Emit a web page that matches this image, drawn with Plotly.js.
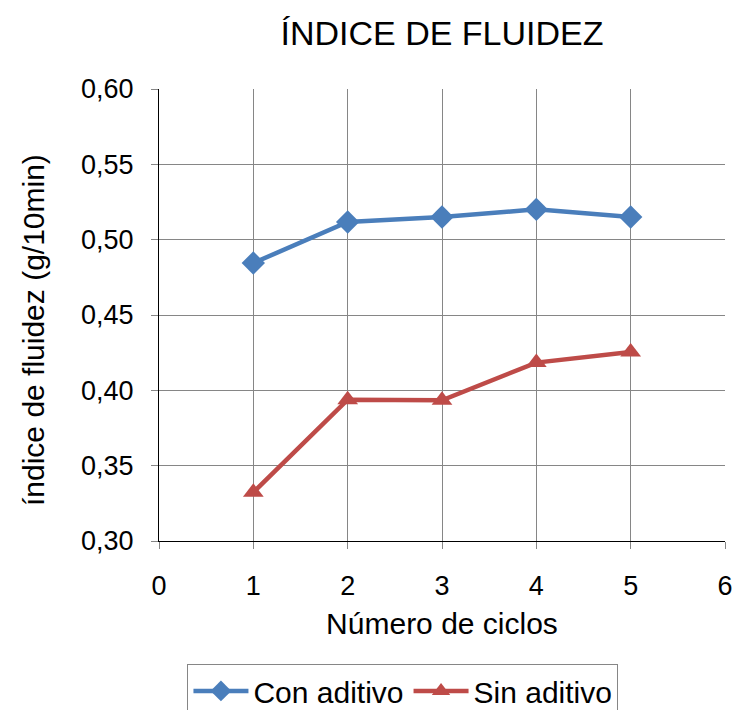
<!DOCTYPE html>
<html>
<head>
<meta charset="utf-8">
<script src="https://cdn.plot.ly/plotly-3.0.1.min.js"></script>
<style>html,body{margin:0;padding:0;background:#fff;overflow:hidden;}#chart{width:736px;height:740px;}</style>
</head>
<body>
<div id="chart"></div>
<script>
const ciclos = [1, 2, 3, 4, 5];
const conAditivo = [0.4845, 0.5117, 0.5150, 0.5201, 0.5150];
const sinAditivo = [0.3323, 0.3938, 0.3934, 0.4184, 0.4254];
const seriesNames = ["Con aditivo", "Sin aditivo"];
const yTitle = "índice de fluidez (g/10min)";

const font = "Liberation Sans, Arial, sans-serif";
const traces = [
  {x: ciclos, y: conAditivo, name: seriesNames[0], type: "scatter", mode: "lines+markers",
   line: {color: "#4a7ebb", width: 4.5}, marker: {symbol: "diamond", size: 18, color: "#4a7ebb"}},
  {x: ciclos, y: sinAditivo, name: seriesNames[1], type: "scatter", mode: "lines+markers",
   line: {color: "#be4b48", width: 4.5}, marker: {symbol: "triangle-up", size: 18, color: "#be4b48"}}
];
const layout = {
  width: 736, height: 740,
  margin: {l: 159, r: 11, t: 89, b: 199},
  paper_bgcolor: "#fff", plot_bgcolor: "#fff",
  separators: ",.",
  font: {family: font, size: 27, color: "#000"},
  title: {text: "ÍNDICE DE FLUIDEZ", font: {family: font, size: 34, color: "#000"},
    xref: "paper", x: 0.5, xanchor: "center", yref: "container", y: 1 - 33/740, yanchor: "middle"},
  xaxis: {range: [0, 6], dtick: 1, tick0: 0, showgrid: true, gridcolor: "#868686", gridwidth: 1,
    showline: true, linecolor: "#000", linewidth: 1, ticks: "outside", ticklen: 7, tickcolor: "#868686",
    zeroline: false, tickfont: {size: 27}, ticklabelstandoff: 14, automargin: false,
    title: {text: "Número de ciclos", font: {size: 30}, standoff: 12}},
  yaxis: {range: [0.30, 0.60], dtick: 0.05, tick0: 0.30, tickformat: ".2f", showgrid: true, gridcolor: "#868686", gridwidth: 1,
    showline: true, linecolor: "#000", linewidth: 1, ticks: "outside", ticklen: 7, tickcolor: "#868686",
    zeroline: false, tickfont: {size: 27}, ticklabelstandoff: 12, automargin: false},
  annotations: [{text: yTitle, textangle: -90, xref: "paper", yref: "paper", x: -0.2226, y: 0.5,
    xanchor: "center", yanchor: "middle", yshift: -15, showarrow: false, font: {size: 30}}],
  showlegend: true,
  legend: {orientation: "h", x: 0.431, xanchor: "center", y: -0.272, yanchor: "top",
    bordercolor: "#868686", borderwidth: 1, font: {size: 30}, itemwidth: 55, tracegroupgap: 0}
};
Plotly.newPlot("chart", traces, layout, {displayModeBar: false});
</script>
</body>
</html>
